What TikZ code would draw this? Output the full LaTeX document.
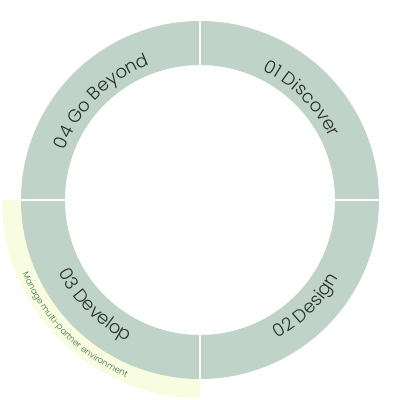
\documentclass[tikz,border=0pt]{standalone}
\usepackage{fontspec}
\setmainfont{Poppins Light}
\usetikzlibrary{decorations.text}
\definecolor{phasesage}{RGB}{191,211,200}
\definecolor{phasecream}{RGB}{248,252,224}
\definecolor{phaseink}{RGB}{40,44,42}
\definecolor{phasegreen}{RGB}{58,112,72}
\newcommand{\phasefont}{\fontsize{18}{18}\selectfont}
\newcommand{\notefont}{\fontsize{8.5}{8.5}\selectfont}
\tikzset{
  phasering/.style={fill=phasesage},
  phaseband/.style={fill=phasecream},
  phasegap/.style={draw=white, line width=1.6pt},
  phaselabel/.style={decorate, decoration={text along path,
    text={|\phasefont|#1}, text align=center, text color=phaseink}},
  phasenote/.style={decorate, decoration={text along path,
    text={|\notefont|#1}, text align=center, text color=phasegreen}},
}
\begin{document}
\begin{tikzpicture}[x=1pt, y=1pt]
  \useasboundingbox (-200,-200) rectangle (200,200);
  % highlight band behind the develop quarter
  \fill[phaseband] (180:198) arc[start angle=180, end angle=270, radius=198]
    -- (270:178) arc[start angle=270, end angle=180, radius=178] -- cycle;
  % ring quarters
  \foreach \a in {0,90,180,270}
    \fill[phasering] (\a:179) arc[start angle=\a, end angle=\a+90, radius=179]
      -- (\a+90:135) arc[start angle=\a+90, end angle=\a, radius=135] -- cycle;
  \foreach \a in {0,90,180,270}
    \draw[phasegap] (\a:133) -- (\a:181);
  % labels
  \path[phaselabel={01 Discover}] (85:144) arc[start angle=85, end angle=5, radius=144];
  \path[phaselabel={04 Go Beyond}] (175:144) arc[start angle=175, end angle=95, radius=144];
  \path[phaselabel={02 Design}] (-85:159) arc[start angle=-85, end angle=-5, radius=159];
  \path[phaselabel={03 Develop}] (185:159) arc[start angle=185, end angle=265, radius=159];
  \path[phasenote={Manage multi-partner environment}] (185:192) arc[start angle=185, end angle=265, radius=192];
\end{tikzpicture}
\end{document}
